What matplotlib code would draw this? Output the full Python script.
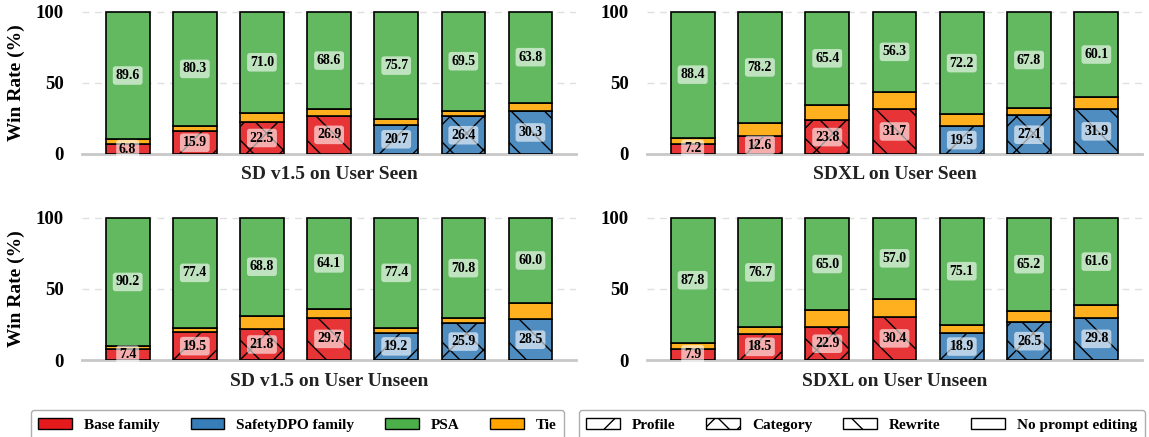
import numpy as np
import matplotlib
matplotlib.use('Agg')
import matplotlib.pyplot as plt
from matplotlib.patches import Patch
from matplotlib.colors import to_rgb

plt.rcParams['font.family'] = ['Liberation Serif', 'DejaVu Serif']
plt.rcParams['font.weight'] = 'bold'
plt.rcParams['hatch.linewidth'] = 1.0
plt.rcParams['hatch.color'] = 'black'

# --- Data ---
titles = ['SD v1.5 on User Seen', 'SDXL on User Seen',
          'SD v1.5 on User Unseen', 'SDXL on User Unseen']
families = ['base', 'base', 'base', 'base', 'dpo', 'dpo', 'dpo']
edits = ['', '/', 'x', '\\', '/', 'x', '\\']

base_vals = [
    [6.8, 15.9, 22.5, 26.9, 20.7, 26.4, 30.3],
    [7.2, 12.6, 23.8, 31.7, 19.5, 27.1, 31.9],
    [7.4, 19.5, 21.8, 29.7, 19.2, 25.9, 28.5],
    [7.9, 18.5, 22.9, 30.4, 18.9, 26.5, 29.8],
]
psa_vals = [
    [89.6, 80.3, 71.0, 68.6, 75.7, 69.5, 63.8],
    [88.4, 78.2, 65.4, 56.3, 72.2, 67.8, 60.1],
    [90.2, 77.4, 68.8, 64.1, 77.4, 70.8, 60.0],
    [87.8, 76.7, 65.0, 57.0, 75.1, 65.2, 61.6],
]

colors = {'base': '#e41a1c', 'dpo': '#377eb8', 'psa': '#4daf4a', 'tie': '#ffa500'}


def soften(c, a=0.88):
    # blend with white instead of using alpha so hatches stay solid black
    r = np.array(to_rgb(c))
    return tuple(r * a + (1 - a))


fig = plt.figure(figsize=(11.49, 4.37), dpi=100)
positions = [
    [0.0714, 0.6476, 0.430, 0.327],
    [0.563, 0.6476, 0.431, 0.327],
    [0.0714, 0.1762, 0.430, 0.327],
    [0.563, 0.1762, 0.431, 0.327],
]

label_box = dict(boxstyle='round,pad=0.2', fc='white', ec='none', alpha=0.6)

for k, pos in enumerate(positions):
    ax = fig.add_axes(pos)
    base = np.array(base_vals[k])
    psa = np.array(psa_vals[k])
    tie = 100 - base - psa
    x = np.arange(len(base))
    w = 0.65

    for i in range(len(x)):
        c = soften(colors[families[i]])
        ax.bar(x[i], base[i], w, color=c, edgecolor='black', linewidth=1.2,
               hatch=edits[i] if edits[i] else None, zorder=3)
    ax.bar(x, tie, w, bottom=base, color=soften(colors['tie']), edgecolor='black',
           linewidth=1.2, zorder=3)
    ax.bar(x, psa, w, bottom=base + tie, color=soften(colors['psa']), edgecolor='black',
           linewidth=1.2, zorder=3)

    for i in range(len(x)):
        ax.text(x[i], base[i] / 2, f'{base[i]:.1f}', ha='center', va='center',
                fontsize=10, fontweight='bold', bbox=label_box, zorder=5)
        ax.text(x[i], base[i] + tie[i] + psa[i] / 2, f'{psa[i]:.1f}', ha='center',
                va='center', fontsize=10, fontweight='bold', bbox=label_box, zorder=5)

    ax.set_xlim(-0.68, 6.68)
    ax.set_ylim(0, 100.5)
    ax.set_yticks([0, 50, 100])
    ax.set_xticks([])
    ax.tick_params(axis='y', length=0, labelsize=13.5, pad=13)
    for lbl in ax.get_yticklabels():
        lbl.set_fontweight('bold')
    ax.yaxis.grid(True, linestyle=(0, (5, 4)), color='#e0e0e0', linewidth=1, zorder=0)
    ax.set_axisbelow(True)
    for s in ['top', 'right', 'left']:
        ax.spines[s].set_visible(False)
    ax.spines['bottom'].set_color('#c8c8c8')
    ax.spines['bottom'].set_linewidth(2)
    ax.set_xlabel(titles[k], fontsize=14, fontweight='bold', labelpad=9, color='#222222')
    if k % 2 == 0:
        ax.set_ylabel('Win Rate (%)', fontsize=14, fontweight='bold', labelpad=8)

# --- Legends ---
color_handles = [
    Patch(facecolor=colors['base'], edgecolor='black', label='Base family'),
    Patch(facecolor=colors['dpo'], edgecolor='black', label='SafetyDPO family'),
    Patch(facecolor=colors['psa'], edgecolor='black', label='PSA'),
    Patch(facecolor=colors['tie'], edgecolor='black', label='Tie'),
]
hatch_handles = [
    Patch(facecolor='white', edgecolor='black', hatch='/', label='Profile'),
    Patch(facecolor='white', edgecolor='black', hatch='x', label='Category'),
    Patch(facecolor='white', edgecolor='black', hatch='\\', label='Rewrite'),
    Patch(facecolor='white', edgecolor='black', label='No prompt editing'),
]
leg_kw = dict(ncol=4, fontsize=11, loc='upper center', frameon=True,
              handlelength=2.2, columnspacing=2.0, edgecolor='#999999',
              borderpad=0.5, borderaxespad=0)
leg1 = fig.legend(handles=color_handles, bbox_to_anchor=(0.259, 0.061), **leg_kw)
leg2 = fig.legend(handles=hatch_handles, bbox_to_anchor=(0.75, 0.061), **leg_kw)

fig.savefig('out.png', dpi=100)
